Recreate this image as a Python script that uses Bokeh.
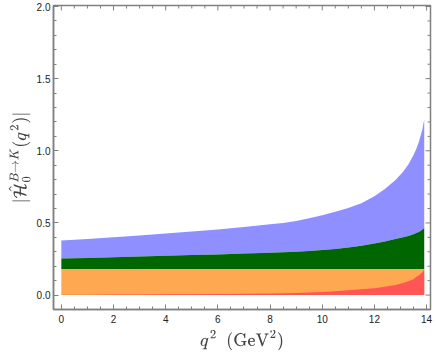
from bokeh.plotting import figure
from bokeh.models import LinearAxis, FixedTicker, Range1d, ColumnDataSource
from bokeh.embed import file_html
from bokeh.resources import INLINE

# data
q2 = [0, 1, 2, 3, 4, 5, 6, 7, 8, 8.5, 9, 9.5, 10, 10.5, 11, 11.5, 12, 12.4, 12.8, 13.1, 13.3, 13.5, 13.6, 13.7, 13.78, 13.84, 13.88, 13.91]
blue_top = [0.378, 0.389, 0.40, 0.413, 0.426, 0.44, 0.455, 0.472, 0.49, 0.50, 0.514, 0.532, 0.553, 0.577, 0.604, 0.636, 0.685, 0.735, 0.795, 0.855, 0.905, 0.97, 1.01, 1.06, 1.11, 1.15, 1.19, 1.22]
green_top = [0.253, 0.257, 0.262, 0.267, 0.272, 0.277, 0.282, 0.288, 0.294, 0.297, 0.300, 0.305, 0.312, 0.320, 0.330, 0.342, 0.358, 0.372, 0.388, 0.400, 0.410, 0.422, 0.430, 0.438, 0.446, 0.454, 0.460, 0.466]
orange_top = [0.18] * len(q2)
red_top = [0.003, 0.003, 0.004, 0.004, 0.005, 0.006, 0.007, 0.009, 0.011, 0.012, 0.014, 0.017, 0.021, 0.026, 0.033, 0.040, 0.048, 0.057, 0.07, 0.083, 0.095, 0.11, 0.125, 0.135, 0.147, 0.159, 0.169, 0.18]
zero = [0.0] * len(q2)

x_major = [0, 2, 4, 6, 8, 10, 12, 14]
x_minor = [i * 0.5 for i in range(0, 29)]
y_major = [0.0, 0.5, 1.0, 1.5, 2.0]
y_minor = [round(i * 0.1, 1) for i in range(-1, 21)]

X0, X1 = -0.3, 14.15
Y0, Y1 = -0.1, 2.007
W, H = 436, 359
BL, BR, BT, BB = 53, 6, 5, 50

src = ColumnDataSource(dict(q2=q2, blue=blue_top, green=green_top, orange=orange_top, red=red_top, zero=zero))

p = figure(width=W, height=H, output_backend="svg", toolbar_location=None,
           x_range=Range1d(X0, X1), y_range=Range1d(Y0, Y1),
           min_border_left=BL, min_border_right=BR, min_border_top=BT, min_border_bottom=BB,
           x_axis_location=None, y_axis_location=None)
frame_color = "#808080"
p.outline_line_color = frame_color
p.outline_line_width = 1.5
p.grid.visible = False
p.background_fill_color = "white"

p.varea(x="q2", y1="green", y2="blue", source=src, fill_color="#8F8FFF")
p.varea(x="q2", y1="orange", y2="green", source=src, fill_color="#006600")
p.varea(x="q2", y1="zero", y2="orange", source=src, fill_color="#FFA852")
p.varea(x="q2", y1="zero", y2="red", source=src, fill_color="#FF5555")

# top / right frame ticks (pointing inward), lengths converted from pixels
fw = W - BL - BR
fh = H - BT - BB
dx = (X1 - X0) / fw
dy = (Y1 - Y0) / fh
xmin_only = [v for v in x_minor if v not in x_major]
ymin_only = [v for v in y_minor if v not in y_major]
p.segment(x0=x_major, x1=x_major, y0=[Y1] * len(x_major), y1=[Y1 - 5 * dy] * len(x_major),
          line_color=frame_color, line_width=1)
p.segment(x0=xmin_only, x1=xmin_only, y0=[Y1] * len(xmin_only), y1=[Y1 - 3 * dy] * len(xmin_only),
          line_color=frame_color, line_width=1)
p.segment(x0=[X1] * len(y_major), x1=[X1 - 5 * dx] * len(y_major), y0=y_major, y1=y_major,
          line_color=frame_color, line_width=1)
p.segment(x0=[X1] * len(ymin_only), x1=[X1 - 3 * dx] * len(ymin_only), y0=ymin_only, y1=ymin_only,
          line_color=frame_color, line_width=1)


def style(ax, ticks, minor):
    ax.ticker = FixedTicker(ticks=ticks, minor_ticks=minor)
    ax.axis_line_color = frame_color
    ax.axis_line_width = 1.5
    ax.major_tick_line_color = frame_color
    ax.minor_tick_line_color = frame_color
    ax.major_tick_in = 5
    ax.major_tick_out = 0
    ax.minor_tick_in = 3
    ax.minor_tick_out = 0
    ax.major_label_text_font = "Liberation Sans"
    ax.major_label_text_font_size = "10px"
    ax.major_label_text_color = "#222222"
    ax.major_label_standoff = 5

xb = LinearAxis(axis_label=r"$$q^2\ \ (\mathrm{GeV}^2)$$")
style(xb, x_major, x_minor)
xb.axis_label_text_font_size = "14px"
xb.axis_label_standoff = 4
xb.major_label_overrides = {t: str(t) for t in x_major}
p.add_layout(xb, "below")

yl = LinearAxis(axis_label=r"$$|\hat{\mathcal{H}}_0^{B\to K}(q^2)|$$")
style(yl, y_major, y_minor)
yl.major_label_standoff = 3
yl.axis_label_text_font_size = "14px"
yl.axis_label_standoff = 3
yl.major_label_overrides = {0.0: "0.0", 0.5: "0.5", 1.0: "1.0", 1.5: "1.5", 2.0: "2.0"}
p.add_layout(yl, "left")

open("out.html", "w").write(file_html(p, INLINE))
